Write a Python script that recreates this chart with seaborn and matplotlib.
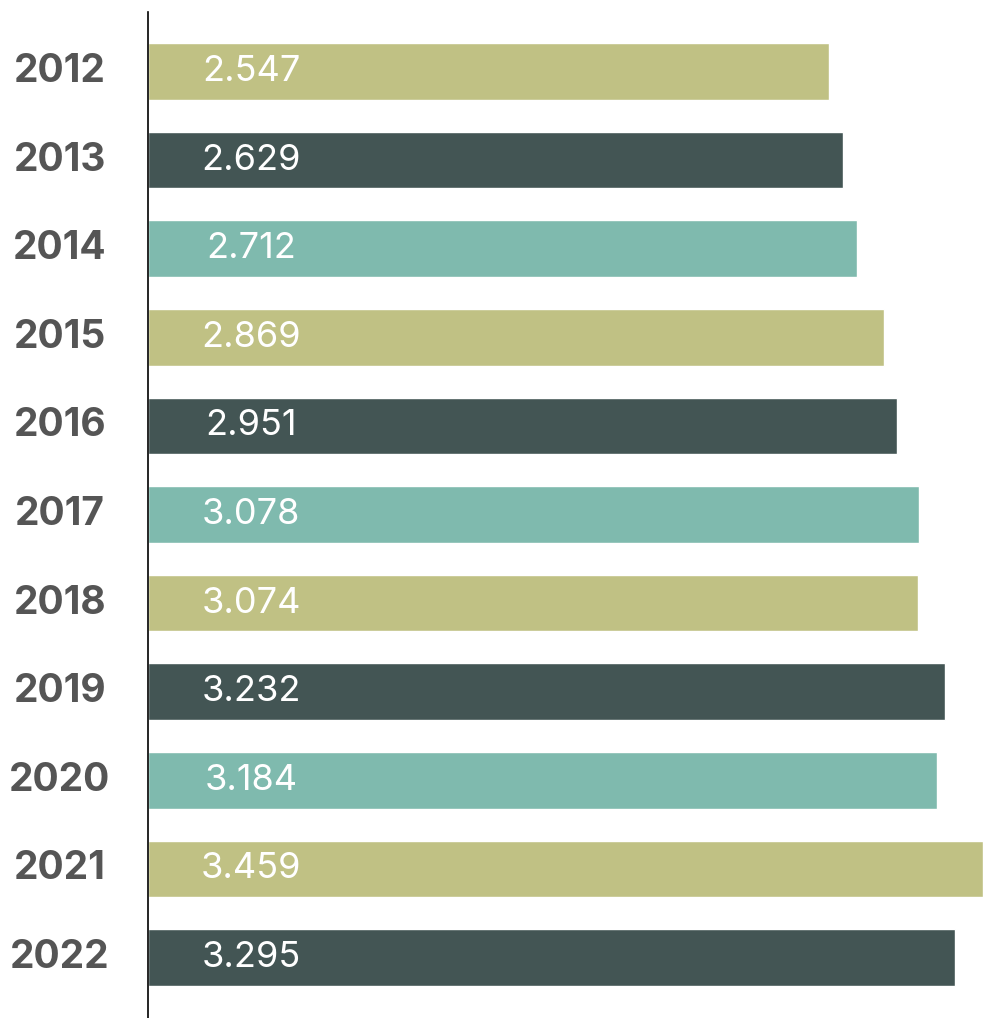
import numpy as np
import pandas as pd
import seaborn as sns
import matplotlib.pyplot as plt

# values per year, shown as labels inside the bars
years = ["2012", "2013", "2014", "2015", "2016", "2017", "2018", "2019", "2020", "2021", "2022"]
values = [2.547, 2.629, 2.712, 2.869, 2.951, 3.078, 3.074, 3.232, 3.184, 3.459, 3.295]
labels = ["2.547", "2.629", "2.712", "2.869", "2.951", "3.078", "3.074", "3.232", "3.184", "3.459", "3.295"]
bar_colors = ["#C0C184", "#435554", "#7FBAAE"] * 4

# the bars in the original start from a baseline below zero
base = -1.5

sns.set_style("white")

df = pd.DataFrame({"year": years, "value": values})

fig = plt.figure(figsize=(9.83, 10.18), dpi=100)
ax = fig.add_axes([148 / 983, 0, 1 - 148 / 983, 1006 / 1018])

sns.barplot(data=df, x="value", y="year", hue="year", palette=bar_colors[:len(years)],
            legend=False, orient="h", width=0.64, saturation=1, ax=ax)

# stretch each bar so it starts at the baseline
for p in ax.patches:
    right = p.get_x() + p.get_width()
    p.set_x(base)
    p.set_width(right - base)

ax.set_xlim(base, 3.46)
ax.set_ylim(len(years) - 1 + 0.683, -0.671)

ax.set_xticks([])
ax.set_yticks([])
ax.set_xlabel("")
ax.set_ylabel("")
for side in ["top", "right", "bottom"]:
    ax.spines[side].set_visible(False)
ax.spines["left"].set_color("black")
ax.spines["left"].set_linewidth(1.2)

trans = ax.get_yaxis_transform()
for i, (yr, lab) in enumerate(zip(years, labels)):
    ax.text(-0.1054, i, yr, transform=trans, ha="center", va="center",
            fontsize=28, fontweight="bold", color="#555555",
            family=["Inter", "DejaVu Sans"], clip_on=False)
    ax.text(0.1234, i, lab, transform=trans, ha="center", va="center",
            fontsize=26, color="white", family=["Inter", "DejaVu Sans"])

plt.savefig("out.png", dpi=100)
